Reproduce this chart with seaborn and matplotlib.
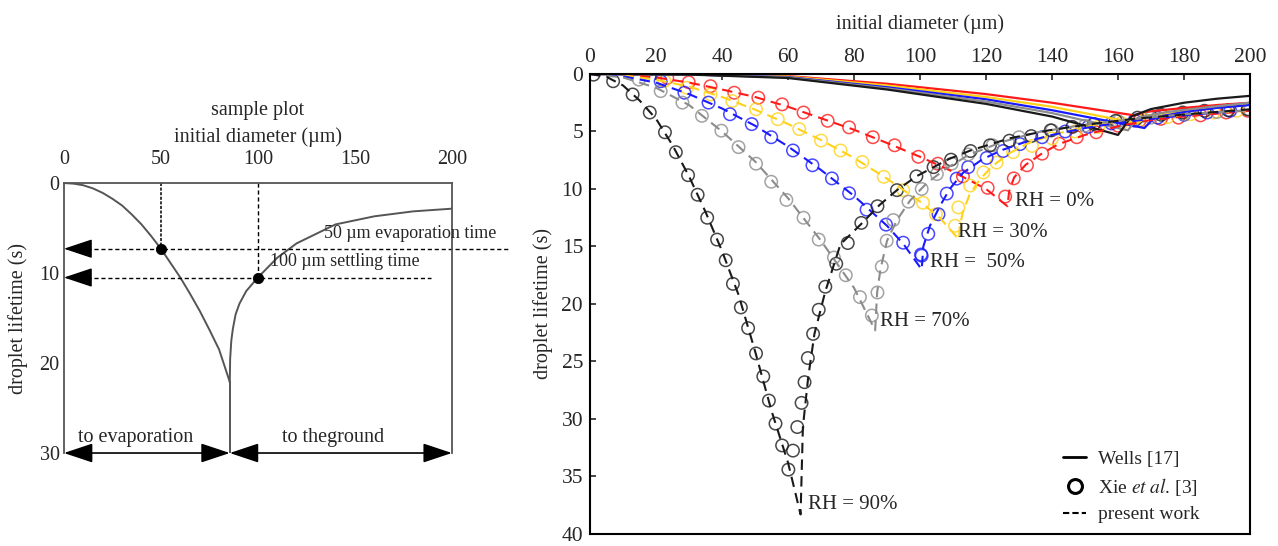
import numpy as np
import pandas as pd
import seaborn as sns
import matplotlib.pyplot as plt
from matplotlib.lines import Line2D

# ---------------- left panel: sample plot ----------------
sample_evap_d = [0, 5, 10, 15, 20, 25, 30, 35, 40, 45, 50, 55, 60, 65, 70, 75, 80, 85.5]
sample_evap_t = [0, 0.07, 0.25, 0.6, 1.1, 1.75, 2.5, 3.5, 4.6, 5.9, 7.3, 8.9, 10.5,
                 12.3, 14.2, 16.3, 18.5, 22.1]
sample_settle_d = [85.5, 85.7, 86.3, 87.1, 88.5, 90.5, 94, 100, 110, 120, 140, 160, 180, 200]
sample_settle_t = [22.1, 19.5, 17.5, 16.2, 14.6, 13.4, 12.0, 10.5, 8.3, 6.7, 4.6, 3.7, 3.15, 2.85]
sample_cut_d = [85.5, 85.5]
sample_cut_t = [22.1, 30]
sample_pts_d = [50, 100]
sample_pts_t = [7.3, 10.5]
sample_xticks = [0, 50, 100, 150, 200]
sample_yticks = [0, 10, 20, 30]

# ---------------- right panel: RH comparison ----------------
rh_names = ['0%', '30%', '50%', '70%', '90%']
rh_colors = ['#ff1a1a', '#ffd21a', '#1a1aff', '#8c8c8c', '#1a1a1a']

# Wells [17] (solid)
wells_d_0 = [0, 30, 60, 90, 120, 140, 165, 168, 180, 190, 200]
wells_t_0 = [0, 0.03, 0.18, 0.85, 1.75, 2.5, 3.6, 3.3, 2.95, 2.7, 2.5]
wells_d_30 = [0, 30, 60, 90, 120, 140, 166, 169, 180, 190, 200]
wells_t_30 = [0, 0.03, 0.22, 1.0, 2.0, 2.85, 4.3, 3.6, 3.2, 2.9, 2.65]
wells_d_50 = [0, 30, 60, 90, 120, 140, 168, 171, 180, 190, 200]
wells_t_50 = [0, 0.04, 0.27, 1.15, 2.2, 3.15, 4.7, 3.8, 3.3, 2.95, 2.7]
wells_d_70 = [0, 30, 60, 90, 120, 140, 163, 166, 175, 190, 200]
wells_t_70 = [0, 0.04, 0.3, 1.25, 2.4, 3.4, 4.9, 3.8, 3.3, 2.8, 2.5]
wells_d_90 = [0, 30, 60, 90, 120, 140, 160, 164, 170, 180, 190, 200]
wells_t_90 = [0, 0.05, 0.35, 1.35, 2.6, 3.7, 5.3, 3.7, 3.05, 2.5, 2.15, 1.9]

# present work (dashed)
present_d_0 = [0, 10, 20, 30, 40, 50, 60, 70, 80, 90, 100, 110, 120, 126.5,
               127, 128.5, 132, 137, 142, 150, 160, 170, 180, 190, 200]
present_t_0 = [0, 0.08, 0.3, 0.75, 1.35, 2.0, 2.85, 3.85, 4.85, 6.0, 7.2, 8.5, 10.0, 11.5,
               10.2, 9.0, 7.9, 6.9, 6.1, 5.3, 4.55, 4.0, 3.7, 3.45, 3.2]
present_d_30 = [0, 10, 20, 30, 40, 50, 60, 70, 80, 90, 100, 106, 111.8,
                112, 113, 115, 118, 122, 127, 133, 140, 150, 160, 170, 180, 190, 200]
present_t_30 = [0, 0.12, 0.5, 1.1, 2.0, 3.1, 4.35, 5.75, 7.3, 9.1, 11.1, 12.5, 14.4,
                13.3, 12.0, 10.5, 9.2, 8.0, 6.9, 6.0, 5.3, 4.6, 4.1, 3.8, 3.55, 3.35, 3.2]
present_d_50 = [0, 10, 20, 30, 40, 50, 60, 70, 80, 90, 95, 100.5,
                101, 103, 106, 109, 113, 119, 125, 132, 140, 150, 160, 170, 180, 190, 200]
present_t_50 = [0, 0.2, 0.75, 1.75, 3.0, 4.5, 6.3, 8.35, 10.6, 13.2, 14.8, 17.0,
                15.0, 13.2, 11.5, 10.0, 8.6, 7.4, 6.6, 5.9, 5.3, 4.7, 4.25, 3.9, 3.6, 3.35, 3.15]
present_d_70 = [0, 10, 20, 30, 40, 50, 60, 70, 80, 86.4,
                87, 88, 90, 93, 97, 102, 108, 115, 125, 135, 150, 165, 180, 200]
present_t_70 = [0, 0.3, 1.2, 2.7, 5.0, 7.6, 10.8, 14.5, 18.6, 22.3,
                19.0, 17.0, 14.5, 12.7, 11.0, 9.5, 8.2, 7.0, 5.9, 5.1, 4.4, 3.9, 3.5, 3.15]
present_d_90 = [0, 5, 10, 15, 20, 25, 30, 35, 40, 45, 50, 55, 60, 63.8,
                64.5, 66.1, 68.0, 71.3, 75.9, 82.5, 87.7, 93.0, 98.9, 108.7, 115.3,
                127.1, 139, 152, 165, 181, 200]
present_t_90 = [0, 0.25, 1.0, 2.3, 3.9, 6.2, 8.9, 12.0, 15.4, 19.2, 24.1, 29.3, 33.8, 38.3,
                30.7, 26.4, 22.6, 18.9, 14.8, 12.95, 11.4, 10.1, 8.9, 7.4, 6.65,
                5.6, 4.9, 4.35, 3.9, 3.5, 3.07]

# Xie et al. [3] (open circles)
xie_d_0 = [23.4, 29.9, 36.5, 43.7, 51.0, 58.2, 64.7, 72.0, 78.5, 85.7, 92.3, 99.5, 105.4,
           113, 120.5, 125.8, 128.4, 132.4, 137.0, 142.2, 147.5, 153.4, 160, 166.5, 173,
           178.3, 185, 192.8, 199.3]
xie_t_0 = [0.34, 0.72, 1.06, 1.63, 2.06, 2.64, 3.35, 4.07, 4.64, 5.5, 6.2, 7.2, 7.8,
           8.9, 9.9, 10.66, 9.08, 7.94, 6.93, 6.07, 5.5, 5.07, 4.5, 4.07, 3.9,
           3.8, 3.6, 3.35, 3.2]
xie_d_30 = [22.5, 29.3, 36.5, 43.1, 50.3, 56.9, 63.4, 70.0, 75.9, 82.5, 89.0, 94.9, 100.9,
            104.8, 110.6, 111.6, 115.2, 119.2, 123.2, 128.2, 133.9, 140, 147, 154, 161,
            168, 175, 182, 189, 196]
xie_t_30 = [0.6, 1.2, 1.78, 2.35, 3.07, 3.93, 4.79, 5.79, 6.65, 7.65, 8.94, 10.1, 11.2,
            12.2, 13.2, 11.6, 9.7, 8.56, 7.7, 6.8, 6.26, 5.6, 5.0, 4.6, 4.25, 4.0, 3.75,
            3.5, 3.35, 3.2]
xie_d_50 = [21.4, 28.6, 35.9, 42.4, 49.0, 54.9, 61.5, 67.4, 73.3, 78.5, 83.8, 89.7, 94.9,
            100.5, 100.3, 102.5, 105.6, 108.1, 111.1, 114.6, 120.2, 125.2, 130.3, 137,
            144, 151, 158, 165, 172, 180, 187, 194]
xie_t_50 = [0.63, 1.63, 2.49, 3.5, 4.36, 5.5, 6.65, 7.94, 9.08, 10.37, 11.8, 13.1, 14.67,
            15.8, 15.7, 13.9, 12.2, 10.4, 9.1, 8.1, 7.3, 6.7, 6.1, 5.5,
            5.0, 4.6, 4.3, 4.05, 3.8, 3.55, 3.35, 3.2]
xie_d_70 = [14.8, 21.4, 28.0, 33.9, 39.8, 45.0, 50.3, 54.9, 59.5, 64.7, 69.3, 73.9, 77.5,
            81.8, 85.4, 87.1, 88.4, 89.9, 91.9, 96.5, 100.5, 105.1, 109.6, 114.6, 122,
            130, 140, 150, 160, 170, 180, 190, 200]
xie_t_70 = [0.49, 1.49, 2.49, 3.64, 4.93, 6.36, 7.8, 9.37, 10.95, 12.5, 14.4, 15.96, 17.5,
            19.4, 21.0, 19.0, 16.75, 14.5, 12.7, 11.1, 10.0, 8.7, 7.8, 7.0, 6.2,
            5.5, 4.9, 4.5, 4.1, 3.8, 3.5, 3.3, 3.15]
xie_d_90 = [1.05, 7.0, 12.9, 18.1, 22.7, 26.0, 29.7, 32.6, 35.5, 38.5, 41.1, 43.3, 45.7,
            47.9, 50.3, 52.5, 54.2, 56.2, 58.2, 60.1, 61.5, 62.8, 64.1, 65.0, 66.0, 67.6,
            69.3, 71.3, 74.6, 78.1, 82.2, 87.1, 93.0, 98.9, 104.1, 109.4, 115.3, 121.2,
            127.1, 133.7, 139.6, 146.2, 152.7, 159.3, 165.9, 173.1, 179.6, 186.2, 193.4, 199.3]
xie_t_90 = [0.06, 0.63, 1.78, 3.35, 5.07, 6.8, 8.8, 10.5, 12.5, 14.4, 16.2, 18.25, 20.3,
            22.1, 24.3, 26.3, 28.4, 30.4, 32.3, 34.4, 32.75, 30.7, 28.6, 26.8, 24.7, 22.6,
            20.5, 18.5, 16.5, 14.7, 12.95, 11.5, 10.1, 8.9, 8.1, 7.45, 6.7, 6.2,
            5.8, 5.4, 4.9, 4.6, 4.35, 4.07, 3.8, 3.55, 3.35, 3.2, 3.15, 3.07]

rh_label_d = [128.8, 111.5, 103, 88, 66]
rh_label_t = [11.1, 13.8, 16.4, 21.5, 37.4]
rh_label_text = ['RH = 0%', 'RH = 30%', 'RH =  50%', 'RH = 70%', 'RH = 90%']
right_xticks = list(range(0, 201, 20))
right_yticks = list(range(0, 41, 5))

wells_d = [wells_d_0, wells_d_30, wells_d_50, wells_d_70, wells_d_90]
wells_t = [wells_t_0, wells_t_30, wells_t_50, wells_t_70, wells_t_90]
present_d = [present_d_0, present_d_30, present_d_50, present_d_70, present_d_90]
present_t = [present_t_0, present_t_30, present_t_50, present_t_70, present_t_90]
xie_d = [xie_d_0, xie_d_30, xie_d_50, xie_d_70, xie_d_90]
xie_t = [xie_t_0, xie_t_30, xie_t_50, xie_t_70, xie_t_90]

sns.set_style('white')
plt.rcParams['font.family'] = ['Liberation Serif', 'DejaVu Serif']
plt.rcParams['mathtext.fontset'] = 'stix'

fig = plt.figure(figsize=(12.78, 5.46), dpi=100)
ax1 = fig.add_axes([0.050, 0.1703, 0.3036, 0.4945])
ax2 = fig.add_axes([0.4617, 0.022, 0.5164, 0.8425])

# ===== left panel =====
grey = '#555555'
sns.lineplot(x=sample_evap_d, y=sample_evap_t, ax=ax1, color=grey, lw=1.4, sort=False, estimator=None)
sns.lineplot(x=sample_settle_d, y=sample_settle_t, ax=ax1, color=grey, lw=1.4, sort=False, estimator=None)
sns.lineplot(x=sample_cut_d, y=sample_cut_t, ax=ax1, color=grey, lw=1.4, sort=False, estimator=None)

# guide lines
ax1.plot([sample_pts_d[0]] * 2, [0, sample_pts_t[0]], color='black', ls=(0, (2, 1)), lw=1.1)
ax1.plot([sample_pts_d[1]] * 2, [0, sample_pts_t[1]], color='black', ls=(0, (3, 2)), lw=1.0)
ax1.plot([12, 230], [sample_pts_t[0]] * 2, color='black', ls=(0, (3, 2)), lw=1.0, clip_on=False)
ax1.plot([12, 189], [sample_pts_t[1]] * 2, color='black', ls=(0, (3, 2)), lw=1.0, clip_on=False)
head = dict(arrowstyle='-|>,head_length=0.9,head_width=0.3', color='black', lw=1.0,
            mutation_scale=20, shrinkA=0, shrinkB=0)
for t in sample_pts_t:
    ax1.annotate('', xy=(0, t), xytext=(12, t), arrowprops=head, annotation_clip=False)
sns.scatterplot(x=sample_pts_d, y=sample_pts_t, ax=ax1, color='black', s=55, edgecolor='black', zorder=5)

ax1.text(134, 6.5, '50 µm evaporation time', fontsize=13, ha='left', va='bottom')
ax1.text(106, 9.7, '100 µm settling time', fontsize=13, ha='left', va='bottom')

both = dict(arrowstyle='<|-|>,head_length=0.9,head_width=0.3', color='black', lw=1.2,
            mutation_scale=20, shrinkA=0, shrinkB=0)
ax1.annotate('', xy=(0, 30), xytext=(85.5, 30), arrowprops=both, annotation_clip=False)
ax1.annotate('', xy=(85.5, 30), xytext=(200, 30), arrowprops=both, annotation_clip=False)
ax1.text(37, 28.3, 'to evaporation', fontsize=14.5, ha='center', va='center')
ax1.text(139, 28.3, 'to theground', fontsize=14.5, ha='center', va='center')

ax1.set_xlim(0, 200)
ax1.set_ylim(30, 0)
ax1.xaxis.tick_top()
ax1.xaxis.set_label_position('top')
ax1.set_xticks(sample_xticks)
ax1.set_yticks(sample_yticks)
ax1.tick_params(axis='x', length=0, labelsize=14.5, pad=10)
ax1.tick_params(axis='y', length=0, labelsize=14.5, pad=3)
ax1.set_xlabel('initial diameter (µm)', fontsize=14.5, labelpad=6)
ax1.set_ylabel('droplet lifetime (s)', fontsize=14.5, labelpad=8)
ax1.text(0.5, 1.27, 'sample plot', fontsize=14.5, ha='center', va='center',
         transform=ax1.transAxes)
for side in ['top', 'left', 'right']:
    ax1.spines[side].set_color(grey)
    ax1.spines[side].set_linewidth(1.3)
ax1.spines['bottom'].set_visible(False)

# ===== right panel =====
for i, col in enumerate(rh_colors):
    sns.lineplot(x=wells_d[i], y=wells_t[i], ax=ax2, color=col, lw=1.6,
                 sort=False, estimator=None)
for i, col in enumerate(rh_colors):
    sns.lineplot(x=present_d[i], y=present_t[i], ax=ax2, color=col, lw=1.5,
                 ls=(0, (5, 3)), sort=False, estimator=None)
    sns.scatterplot(x=xie_d[i], y=xie_t[i], ax=ax2, marker='o', s=80,
                    facecolor='none', edgecolor=col, linewidth=1.1, alpha=0.8)
    ax2.text(rh_label_d[i], rh_label_t[i], rh_label_text[i], fontsize=15,
             ha='left', va='center')

ax2.set_xlim(0, 200)
ax2.set_ylim(40, 0)
ax2.xaxis.tick_top()
ax2.xaxis.set_label_position('top')
ax2.set_xticks(right_xticks)
ax2.set_yticks(right_yticks)
ax2.tick_params(direction='in', length=4, width=1.2, labelsize=15.5, pad=5,
                top=True, left=True, bottom=False, right=False)
ax2.set_xlabel('initial diameter (µm)', fontsize=14.5, labelpad=14)
ax2.set_ylabel('droplet lifetime (s)', fontsize=14.5, labelpad=6)
for side in ax2.spines:
    ax2.spines[side].set_color('black')
    ax2.spines[side].set_linewidth(1.5)

handles = [Line2D([], [], color='black', lw=2),
           Line2D([], [], color='black', lw=0, marker='o', markersize=10,
                  markerfacecolor='none', markeredgewidth=2.2),
           Line2D([], [], color='black', lw=1.5, ls=(0, (3, 1.5)))]
ax2.legend(handles, ['Wells [17]', 'Xie $\\mathit{et\\ al}$. [3]', 'present work'],
           loc='lower right', bbox_to_anchor=(0.95, -0.015), frameon=False, fontsize=14,
           handlelength=1.2, handletextpad=0.6, labelspacing=0.4)

fig.savefig('out.png', dpi=100)
